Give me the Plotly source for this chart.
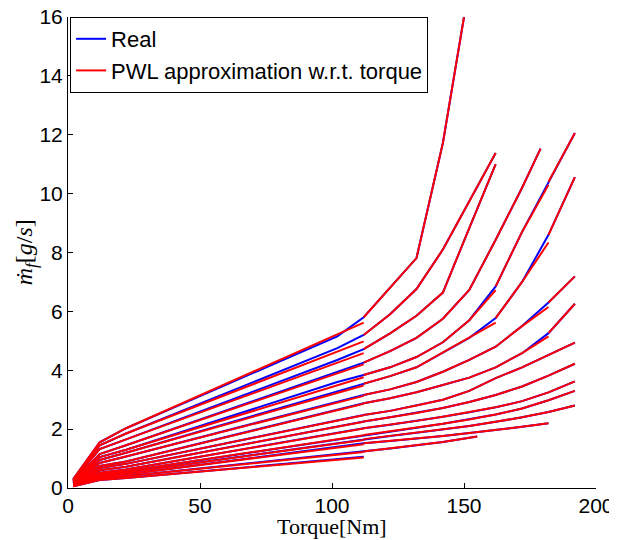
import plotly.graph_objects as go

# ---- Data: fuel mass flow (g/s) vs torque (Nm), one curve per engine speed ----
t_full = [2, 12, 22, 102, 112, 122, 132, 142, 152, 162, 172, 182, 192]

t01 = [2, 12, 22, 102, 112, 122, 132, 142, 150]
m01 = [0.30, 1.55, 2.03, 5.15, 5.80, 6.80, 7.81, 11.72, 16.00]
t02 = [2, 12, 22, 102, 112, 122, 132, 142, 152, 162]
m02 = [0.28, 1.45, 1.85, 4.75, 5.20, 5.90, 6.76, 8.10, 9.74, 11.38]
t03 = [2, 12, 22, 102, 112, 122, 132, 142, 152, 162]
m03 = [0.26, 1.32, 1.65, 4.35, 4.72, 5.25, 5.85, 6.64, 8.83, 11.00]
t04 = [2, 12, 22, 102, 112, 122, 132, 142, 152, 162, 172, 179]
m04 = [0.24, 1.15, 1.45, 3.95, 4.26, 4.65, 5.10, 5.75, 6.73, 8.43, 10.20, 11.53]
t05 = t_full
m05 = [0.22, 1.05, 1.30, 3.60, 3.84, 4.10, 4.45, 4.95, 5.70, 6.85, 8.70, 10.40, 12.06]
t06 = t_full
m06 = [0.20, 0.95, 1.20, 3.30, 3.54, 3.80, 4.10, 4.60, 5.10, 5.77, 7.00, 8.60, 10.56]
t07 = t_full
m07 = [0.19, 0.85, 1.07, 2.95, 3.16, 3.35, 3.60, 3.95, 4.35, 4.80, 5.50, 6.30, 7.19]
t08 = t_full
m08 = [0.17, 0.75, 0.90, 2.65, 2.88, 3.05, 3.25, 3.50, 3.75, 4.10, 4.58, 5.26, 6.26]
t09 = t_full
m09 = [0.16, 0.68, 0.82, 2.30, 2.48, 2.62, 2.80, 3.00, 3.30, 3.73, 4.10, 4.52, 4.94]
t10 = t_full
m10 = [0.15, 0.60, 0.72, 2.10, 2.26, 2.40, 2.55, 2.72, 2.92, 3.16, 3.45, 3.82, 4.22]
t11 = t_full
m11 = [0.13, 0.52, 0.63, 1.88, 2.03, 2.15, 2.28, 2.42, 2.57, 2.74, 2.95, 3.25, 3.62]
t12 = t_full
m12 = [0.12, 0.47, 0.57, 1.66, 1.80, 1.92, 2.05, 2.18, 2.33, 2.50, 2.70, 2.98, 3.30]
t13 = t_full
m13 = [0.10, 0.42, 0.52, 1.53, 1.66, 1.77, 1.88, 1.99, 2.11, 2.25, 2.40, 2.58, 2.80]
t14 = [2, 12, 22, 102, 112, 122, 132, 142, 152, 162, 172, 182]
m14 = [0.09, 0.37, 0.46, 1.40, 1.52, 1.60, 1.68, 1.77, 1.87, 1.97, 2.08, 2.20]
t15 = [2, 12, 22, 102, 112, 122, 132, 142, 155]
m15 = [0.07, 0.32, 0.40, 1.14, 1.24, 1.34, 1.45, 1.56, 1.75]
t16 = [2, 12, 22, 102, 112]
m16 = [0.06, 0.27, 0.34, 0.98, 1.06]

torques = [t01, t02, t03, t04, t05, t06, t07, t08, t09, t10, t11, t12, t13, t14, t15, t16]
fuels = [m01, m02, m03, m04, m05, m06, m07, m08, m09, m10, m11, m12, m13, m14, m15, m16]

# PWL approximation: left-hand limits at region boundaries (None = continuous)
pwl_left_112 = [5.62, 4.98, 4.58, 4.20, 3.76, 3.48, 3.13, 2.86, 2.47, 2.25, 2.02, 1.79, 1.63, 1.49, 1.22, 1.04]
pwl_left_162 = [None, None, None, None, 6.72, 5.62, None, None, None, None, None, None, None, None, None, None]
pwl_left_182 = [None, None, None, None, 10.30, 8.34, 6.15, 5.15, None, None, None, None, None, None, None, None]
pwl_skip = [102]  # real-data point not used as PWL breakpoint

x_ticks = [0, 50, 100, 150, 200]
y_ticks = [0, 2, 4, 6, 8, 10, 12, 14, 16]

# ---- Build traces ----
bx, by, rx, ry = [], [], [], []
for i, (ts, ms) in enumerate(zip(torques, fuels)):
    bx += list(ts) + [None]
    by += list(ms) + [None]
    for t, m in zip(ts, ms):
        if t in pwl_skip:
            continue
        if t == 112 and pwl_left_112[i] is not None:
            rx += [t, None]
            ry += [pwl_left_112[i], None]
        if t == 162 and pwl_left_162[i] is not None:
            rx += [t, None]
            ry += [pwl_left_162[i], None]
        if t == 182 and pwl_left_182[i] is not None and t != ts[-1]:
            rx += [t, None]
            ry += [pwl_left_182[i], None]
        rx.append(t)
        ry.append(m)
    rx.append(None)
    ry.append(None)

fig = go.Figure()
fig.add_trace(go.Scatter(x=bx, y=by, mode="lines", name="Real",
                         line=dict(color="rgb(0,0,255)", width=2), connectgaps=False))
fig.add_trace(go.Scatter(x=rx, y=ry, mode="lines", name="PWL approximation w.r.t. torque",
                         line=dict(color="rgb(255,0,0)", width=2), connectgaps=False))

axis_common = dict(showline=True, linecolor="black", linewidth=1, mirror=False,
                   ticks="inside", ticklen=5, tickcolor="black", showgrid=False,
                   zeroline=False, automargin=False, ticklabeloverflow="allow",
                   tickfont=dict(family="Liberation Sans", size=21, color="black"))

# page body has an 8px margin, so the figure is sized to fit the 617x540 window
fig.update_layout(
    width=609, height=532,
    margin=dict(l=60, r=21, t=9, b=52),
    paper_bgcolor="white", plot_bgcolor="white",
    xaxis=dict(range=[0, 200], tickvals=x_ticks, ticklabelstandoff=-1, **axis_common),
    yaxis=dict(range=[0, 16], tickvals=y_ticks, ticklabelstandoff=0, **axis_common),
    legend=dict(x=0.004, y=1, xanchor="left", yanchor="top",
                bgcolor="white", bordercolor="black", borderwidth=1,
                font=dict(family="Liberation Sans", size=22, color="black"),
                tracegroupgap=0, itemwidth=30),
    showlegend=True,
    annotations=[
        dict(text="Torque[Nm]", xref="paper", yref="paper", x=0.5, y=-0.082,
             xanchor="center", yanchor="middle", showarrow=False,
             font=dict(family="Liberation Serif", size=22, color="black")),
        dict(text="<i>ṁ</i><sub><i>f</i></sub>[<i>g</i>/<i>s</i>]", xref="paper", yref="paper",
             x=-0.080, y=0.50, xanchor="center", yanchor="middle", textangle=-90,
             showarrow=False, font=dict(family="Liberation Serif", size=24, color="black")),
    ],
)

fig.write_html("out.html")
